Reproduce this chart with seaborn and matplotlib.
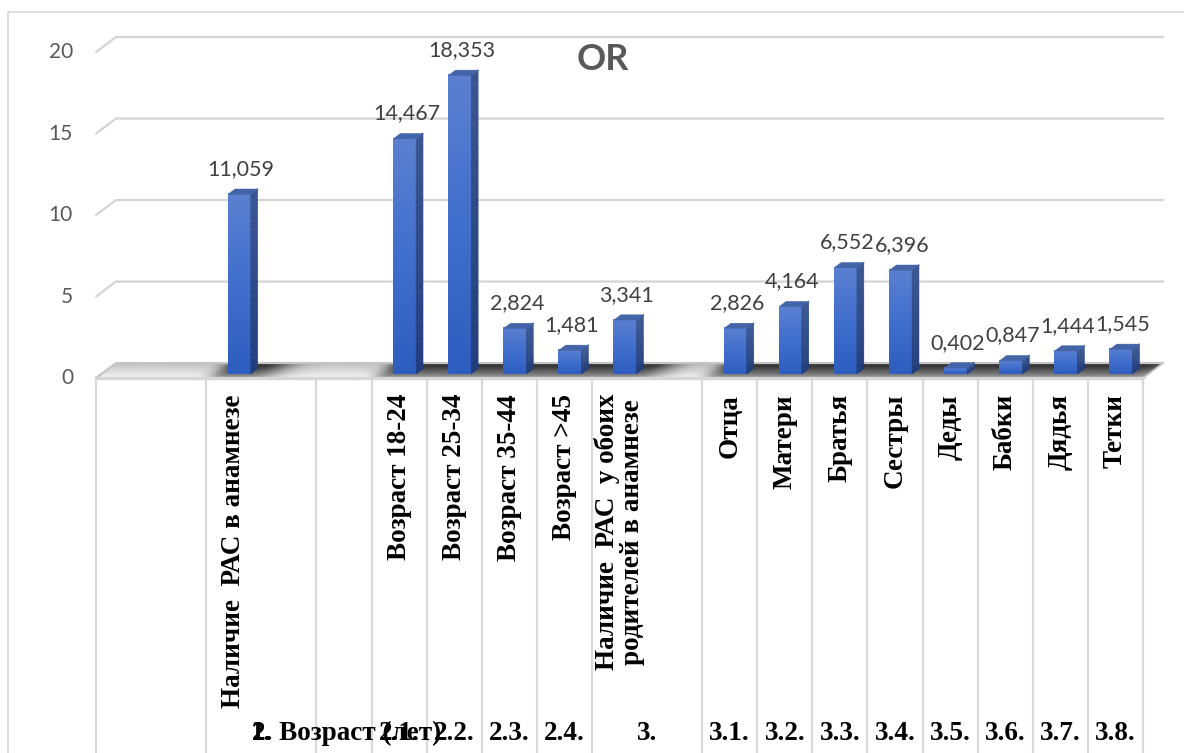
import numpy as np
import pandas as pd
import matplotlib
matplotlib.use("Agg")
import matplotlib.pyplot as plt
import seaborn as sns
from matplotlib.collections import PolyCollection
from matplotlib.lines import Line2D
from matplotlib.patches import Rectangle
from matplotlib.transforms import IdentityTransform
from matplotlib.colors import LinearSegmentedColormap

# ---------------------------------------------------------------- data
factor_labels = ["", "", "Наличие  РАС в анамнезе", "", "",
                 "Возраст 18-24", "Возраст 25-34", "Возраст 35-44", "Возраст >45",
                 "Наличие  РАС  у обоих\nродителей в анамнезе", "",
                 "Отца", "Матери", "Братья", "Сестры",
                 "Деды", "Бабки", "Дядья", "Тетки"]
item_codes = ["", "", "", "", "",
              "2.1.", "2.2.", "2.3.", "2.4.", "", "",
              "3.1.", "3.2.", "3.3.", "3.4.", "3.5.", "3.6.", "3.7.", "3.8."]
group_labels = ["1.", "2. Возраст (лет)", "3."]
odds_ratio = [np.nan, np.nan, 11.059, np.nan, np.nan,
              14.467, 18.353, 2.824, 1.481, 3.341, np.nan,
              2.826, 4.164, 6.552, 6.396, 0.402, 0.847, 1.444, 1.545]
y_ticks = [0, 5, 10, 15, 20]
chart_title = "OR"

# ---------------------------------------------------------------- style
sns.set_theme(style="white")
plt.rcParams["font.family"] = ["Lato", "DejaVu Sans"]
SERIF = ["Liberation Serif", "DejaVu Serif"]
GRID = "#d4d4d4"
AXIS_TXT = "#595959"
VAL_TXT = "#404040"
CAT_SIZE = 19.5

W, H = 1184, 753
fig = plt.figure(figsize=(W / 100, H / 100), dpi=100)
fig.patch.set_facecolor("white")

# chart area frame
fig.add_artist(Rectangle((8 / W, -0.05), 1.2, 1 - 12 / H + 0.05,
                         transform=fig.transFigure, fill=False,
                         ec="#d9d9d9", lw=1.2))

# axes = plane of the bars' front faces
x_l, x_r, y0_px, y20_px = 101.4, 1148.4, 374.0, 48.0
ax = fig.add_axes([x_l / W, 1 - y0_px / H, (x_r - x_l) / W, (y0_px - y20_px) / H])

n = len(odds_ratio)
df = pd.DataFrame({"slot": list(range(n)), "OR": odds_ratio})
sns.barplot(data=df, x="slot", y="OR", order=list(range(n)), width=0.42,
            color="#3b66c4", saturation=1, errorbar=None, ax=ax,
            edgecolor="none", zorder=3)
ax.set_xlim(-0.5, n - 0.5)
ax.set_ylim(0, 20)
ax.set_autoscale_on(False)
ax.axis("off")

DEPTH = np.array([20.0, 15.0])   # front plane -> back wall, pixels
BAR_D0 = 0.27                    # depth of the bars' front faces
BAR_DD = 0.35                    # depth of the bars themselves


def disp(x, y, d=BAR_D0):
    p = ax.transData.transform((x, y))
    return p + (d - BAR_D0) * DEPTH


def line(pts, **kw):
    pts = np.asarray(pts)
    ax.add_line(Line2D(pts[:, 0], pts[:, 1], transform=IdentityTransform(),
                       clip_on=False, **kw))


xmin, xmax = -0.5, n - 0.5

# ---------------------------------------------------------------- floor
bars = [p for p in ax.patches if np.isfinite(p.get_height()) and p.get_height() > 0]
centers = np.array([p.get_x() + p.get_width() / 2 for p in bars])
half_w = bars[0].get_width() / 2

nu, nd = 420, 12
us = np.linspace(xmin, xmax, nu + 1)
ds = np.linspace(0, 1, nd + 1)
um = (us[:-1] + us[1:]) / 2
dist = um[:, None] - centers[None, :]
left = np.clip(-dist - half_w, 0, None)
right = np.clip(dist - half_w, 0, None)
shade = np.exp(-(left / 0.28) ** 2) * np.exp(-(right / 0.55) ** 2)
shade = np.clip(shade.sum(axis=1), 0, 1)

polys, cols = [], []
for i in range(nu):
    for j in range(nd):
        dm = (ds[j] + ds[j + 1]) / 2
        poly = [disp(us[i], 0, ds[j]), disp(us[i + 1], 0, ds[j]),
                disp(us[i + 1], 0, ds[j + 1]), disp(us[i], 0, ds[j + 1])]
        base = 0.97 - 0.22 * dm
        g = base * (1 - shade[i] * (0.35 + 0.5 * dm))
        polys.append(poly)
        cols.append((g, g, g))
ax.add_collection(PolyCollection(polys, facecolors=cols, edgecolors=cols,
                                 linewidths=0.3, transform=IdentityTransform(),
                                 clip_on=False, zorder=1), autolim=False)

# back edge of floor and gridlines on the back wall
for t in y_ticks:
    line([disp(xmin, t, 0), disp(xmin, t, 1), disp(xmax, t, 1)],
         color=GRID if t else "#c4c4c4", lw=1.6, zorder=1.5,
         solid_capstyle="round")
# side edges and front edge of floor
line([disp(xmax, 0, 0), disp(xmax, 0, 1)], color="#c4c4c4", lw=1.2, zorder=1.5)
line([disp(xmin, 0, 0), disp(xmax, 0, 0)], color="#d6d6d6", lw=2.4, zorder=1.6)

# ---------------------------------------------------------------- bars
front_cmap = LinearSegmentedColormap.from_list("front", ["#2d5dbf", "#416fcd", "#5b80d0"])
side_cmap = LinearSegmentedColormap.from_list("side", ["#213e7c", "#3a5593"])
grad = np.linspace(0, 1, 256).reshape(-1, 1)
for p in bars:
    x0, w, h = p.get_x(), p.get_width(), p.get_height()
    ax.imshow(grad, extent=(x0, x0 + w, 0, h), origin="lower", cmap=front_cmap,
              aspect="auto", interpolation="bicubic", zorder=3.1)
    # side face
    nseg = 24
    hs = np.linspace(0, h, nseg + 1)
    sp, sc = [], []
    for k in range(nseg):
        a = disp(x0 + w, hs[k]); b = disp(x0 + w, hs[k + 1])
        sp.append([a, b, b + BAR_DD * DEPTH, a + BAR_DD * DEPTH])
        sc.append(side_cmap((k + 0.5) / nseg))
    ax.add_collection(PolyCollection(sp, facecolors=sc, edgecolors=sc, linewidths=0.3,
                                     transform=IdentityTransform(), clip_on=False,
                                     zorder=3.2), autolim=False)
    # top face
    a = disp(x0, h); b = disp(x0 + w, h)
    ax.add_collection(PolyCollection([[a, b, b + BAR_DD * DEPTH, a + BAR_DD * DEPTH]],
                                     facecolors="#4464a8", edgecolors="#4464a8",
                                     linewidths=0.3, transform=IdentityTransform(),
                                     clip_on=False, zorder=3.2), autolim=False)
    # value label
    txt = f"{h:.3f}".replace(".", ",")
    ax.annotate(txt, xy=(x0 + w / 2, h), xytext=(1.5, 13.5), textcoords="offset points",
                ha="center", va="baseline", fontsize=15.5, color=VAL_TXT, zorder=5)

ax.set_xlim(xmin, xmax)
ax.set_ylim(0, 20)

# ---------------------------------------------------------------- y tick labels
for t in y_ticks:
    px, py = disp(xmin, t, 0)
    fig.text(73 / W, py / H, str(t), ha="right", va="center",
             fontsize=15, color=AXIS_TXT)

# ---------------------------------------------------------------- category table
table_top = disp(xmin, 0, 0)[1] - 1.5
dividers = [xmin, 1.5, 3.5] + [k + 0.5 for k in range(4, 9)] + \
           [k + 0.5 for k in range(10, n)]
for xb in dividers:
    xp = disp(xb, 0, 0)[0]
    line([(xp, table_top), (xp, -5)], color="#dadada", lw=1.6, zorder=1)

label_top = H - 394
for k, lab in enumerate(factor_labels):
    if not lab:
        continue
    xp = disp(k, 0, 0)[0]
    fig.text(xp / W, label_top / H, lab, rotation=90, ha="center", va="top",
             multialignment="center", fontsize=CAT_SIZE, fontweight="bold",
             family=SERIF, color="black", linespacing=0.95)

row_y = (H - 733) / H
for k, code in enumerate(item_codes):
    if not code:
        continue
    xp = disp(k, 0, 0)[0]
    fig.text(xp / W, row_y, code, ha="center", va="center", fontsize=CAT_SIZE,
             fontweight="bold", family=SERIF, color="black")

# group headers of the lower row
g1 = (disp(2, 0, 0)[0] + disp(3, 0, 0)[0]) / 2
fig.text(g1 / W, row_y, group_labels[0], ha="center", va="center", fontsize=CAT_SIZE,
         fontweight="bold", family=SERIF, color="black")
fig.text((g1 - 9) / W, row_y, group_labels[1], ha="left", va="center",
         fontsize=CAT_SIZE, fontweight="bold", family=SERIF, color="black")
g3 = (disp(9, 0, 0)[0] + disp(10, 0, 0)[0]) / 2
fig.text(g3 / W, row_y, group_labels[2], ha="center", va="center", fontsize=CAT_SIZE,
         fontweight="bold", family=SERIF, color="black")

# ---------------------------------------------------------------- title
fig.text(603 / W, 1 - 60 / H, chart_title, ha="center", va="center",
         fontsize=26, fontweight="bold", color=AXIS_TXT)

fig.savefig("out.png", dpi=100, facecolor="white")
